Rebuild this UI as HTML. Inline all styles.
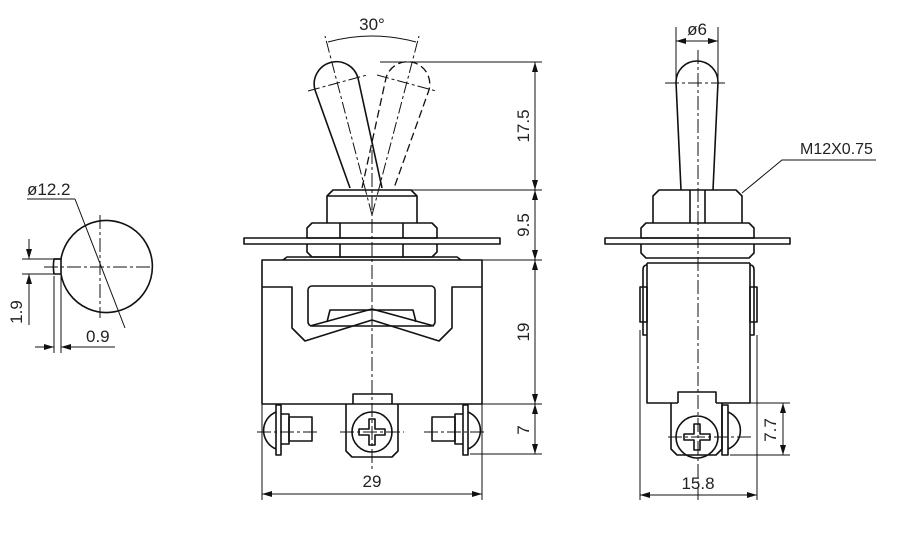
<!DOCTYPE html>
<html><head><meta charset="utf-8"><style>
html,body{margin:0;padding:0;background:#fff}
svg{display:block}
text{font-family:"Liberation Sans",sans-serif;font-size:17px;fill:#222}
</style></head><body>
<svg width="900" height="540" viewBox="0 0 900 540" xmlns="http://www.w3.org/2000/svg">
<defs>
<marker id="a" viewBox="0 0 10 6" refX="10" refY="3" markerWidth="10" markerHeight="6" orient="auto-start-reverse" markerUnits="userSpaceOnUse"><path d="M0,0 L10,3 L0,6 z" fill="#111"/></marker>
</defs>
<g fill="none" stroke="#111" stroke-width="1.6" stroke-linejoin="round">
<path d="M61,259 A46,46 0 1 1 61,274 L54,274 A46,46 0 0 1 54,259 Z"/>
<path d="M54,259 L61,259 L61,274"/>
</g>
<g fill="none" stroke="#111" stroke-width="1">
<path d="M22,259 H58 M22,274 H58"/>
<line x1="29" y1="239" x2="29" y2="259" marker-end="url(#a)"/>
<line x1="29" y1="325" x2="29" y2="274" marker-end="url(#a)"/>
<path d="M54,276 V353 M61,276 V353"/>
<line x1="35" y1="347" x2="54" y2="347" marker-end="url(#a)"/>
<line x1="115" y1="347" x2="61" y2="347" marker-end="url(#a)"/>
<path d="M27,199 H75"/>
<line x1="75" y1="199" x2="125" y2="328"/>
<path d="M100,215 V318 M44,267 H153" stroke-dasharray="14,3,3,3"/>
</g>
<text x="27" y="195">ø12.2</text>
<text x="86" y="342">0.9</text>
<text transform="translate(22,312) rotate(-90)" text-anchor="middle">1.9</text>

<g fill="none" stroke="#111" stroke-width="1.6" stroke-linejoin="round">
<path d="M350,188 L315,90 A20,20 0 0 1 358,78 L382,188"/>
<path d="M327,223 V196 L333,190 H411 L417,196 V223"/>
<path d="M327,196 H417"/>
<path d="M307,238 V228 L312,223 H432 L437,228 V238 Z"/>
<path d="M340,223 V238 M403,223 V238"/>
<rect x="244" y="238" width="256" height="6"/>
<path d="M307,244 V252 L312,257 H432 L437,252 V244"/>
<path d="M340,244 V257 M403,244 V257"/>
<path d="M283,260 L287,257 H457 L461,260"/>
<rect x="262" y="260" width="220" height="144"/>
<path d="M262,287 H292 V328 L305,341 L372,320 L439,341 L452,328 V287 H482"/>
<rect x="308" y="286" width="127" height="40" rx="4"/>
<path d="M310,326 L372,309 L434,326"/>
<path d="M327,322 L330,310 H413 L416,322"/>
<path d="M353,404 V394 H392 V404"/>
<path d="M346,404 V451 L352,457 H392 L398,451 V404"/>
<circle cx="372" cy="432" r="20"/>
<path d="M369,419 H375 V429 H385 V435 H375 V445 H369 V435 H359 V429 H369 Z"/>
<path d="M276,405 V455 H281 V405 Z"/>
<path d="M276,412 A20,20 0 0 0 276,449"/>
<path d="M281,414 H289 V444 H281"/>
<rect x="289" y="417" width="23" height="24"/>
<path d="M468,405 V455 H463 V405 Z"/>
<path d="M468,412 A20,20 0 0 1 468,449"/>
<path d="M463,414 H455 V444 H463"/>
<rect x="432" y="417" width="23" height="24"/>
</g>
<g fill="none" stroke="#111" stroke-width="1.3" stroke-dasharray="8,4">
<path d="M362,188 L386,78 A20,20 0 0 1 429,90 L394,188"/>
</g>
<g fill="none" stroke="#111" stroke-width="1">
<path d="M372,150 V470 M257,432 H320 M340,432 H404 M424,432 H487" stroke-dasharray="14,3,3,3"/>
<path d="M372,215 L325,36 M372,215 L419,36 M308,91 L367,75 M377,75 L436,91" stroke-dasharray="12,3,3,3"/>
<path d="M328,42 Q372,30 416,42"/>
<path d="M380,62 H542 M410,190 H542 M482,260 H542 M482,404 H542 M470,454 H542"/>
<line x1="535" y1="126" x2="535" y2="62" marker-end="url(#a)"/>
<line x1="535" y1="126" x2="535" y2="190" marker-end="url(#a)"/>
<line x1="535" y1="225" x2="535" y2="190" marker-end="url(#a)"/>
<line x1="535" y1="225" x2="535" y2="260" marker-end="url(#a)"/>
<line x1="535" y1="332" x2="535" y2="260" marker-end="url(#a)"/>
<line x1="535" y1="332" x2="535" y2="404" marker-end="url(#a)"/>
<line x1="535" y1="430" x2="535" y2="404" marker-end="url(#a)"/>
<line x1="535" y1="430" x2="535" y2="454" marker-end="url(#a)"/>
<path d="M262,404 V500 M482,404 V500"/>
<line x1="372" y1="494" x2="262" y2="494" marker-end="url(#a)"/>
<line x1="372" y1="494" x2="482" y2="494" marker-end="url(#a)"/>
</g>
<text x="372" y="30" text-anchor="middle">30°</text>
<text x="372" y="487" text-anchor="middle">29</text>
<text transform="translate(529,126) rotate(-90)" text-anchor="middle">17.5</text>
<text transform="translate(529,225) rotate(-90)" text-anchor="middle">9.5</text>
<text transform="translate(529,332) rotate(-90)" text-anchor="middle">19</text>
<text transform="translate(529,430) rotate(-90)" text-anchor="middle">7</text>

<g fill="none" stroke="#111" stroke-width="1.6" stroke-linejoin="round">
<path d="M681,190 L676,82 A21,21 0 0 1 718,82 L713,190"/>
<path d="M653,223 V196 L659,190 H736 L742,196 V223"/>
<path d="M690,190 V223 M705,190 V223"/>
<path d="M641,238 V228 L646,223 H749 L754,228 V238 Z"/>
<rect x="605" y="238" width="185" height="6"/>
<path d="M641,244 V253 L646,258 H749 L754,253 V244"/>
<path d="M647,263 H750 M647,263 V403 H678 M716,403 H750 V263"/>
<path d="M647,265 Q643,265 643,270 V335 H647 M750,265 Q754,265 754,270 V335 H750"/>
<path d="M640,287 H647 V322 H640 Z M757,287 H750 V322 H757 Z"/>
<path d="M678,403 V392 H716 V403"/>
<path d="M671,403 V449 L677,455 H716 L722,449 V403"/>
<circle cx="697" cy="437" r="21"/>
<path d="M694,424 H700 V434 H710 V440 H700 V450 H694 V440 H684 V434 H694 Z"/>
<path d="M722,405 V455 H728 V405 Z"/>
<path d="M728,412 A20,20 0 0 1 728,449"/>
</g>
<g fill="none" stroke="#111" stroke-width="1">
<path d="M698,50 V500 M665,83 H728 M668,437 H752" stroke-dasharray="14,3,3,3"/>
<path d="M676,27 V80 M718,27 V80"/>
<line x1="697" y1="41" x2="676" y2="41" marker-end="url(#a)"/>
<line x1="697" y1="41" x2="718" y2="41" marker-end="url(#a)"/>
<path d="M742,193 L782,160 H876"/>
<path d="M740,403 H790 M730,455 H790"/>
<line x1="783" y1="430" x2="783" y2="403" marker-end="url(#a)"/>
<line x1="783" y1="430" x2="783" y2="455" marker-end="url(#a)"/>
<path d="M640,330 V500 M757,335 V500"/>
<line x1="698" y1="495" x2="640" y2="495" marker-end="url(#a)"/>
<line x1="698" y1="495" x2="757" y2="495" marker-end="url(#a)"/>
</g>
<text x="697" y="35" text-anchor="middle">ø6</text>
<text x="800" y="154" style="font-size:16px">M12X0.75</text>
<text x="698" y="489" text-anchor="middle">15.8</text>
<text transform="translate(776,430) rotate(-90)" text-anchor="middle">7.7</text>
</svg>
</body></html>
